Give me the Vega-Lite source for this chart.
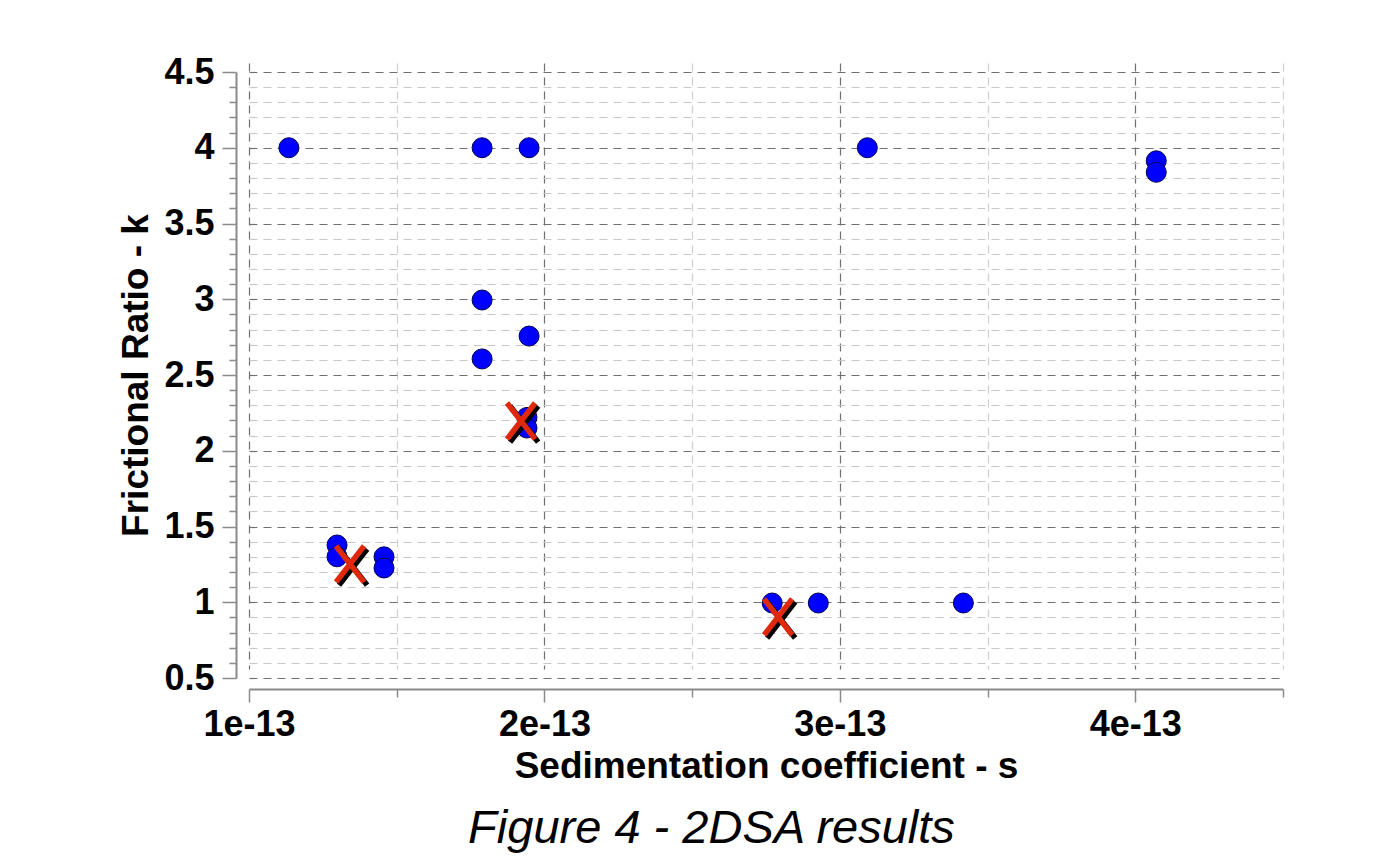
{
  "$schema": "https://vega.github.io/schema/vega-lite/v6.json",
  "autosize": {"type": "none"},
  "width": 1062,
  "height": 631,
  "padding": {"left": 243, "top": 55, "right": 94, "bottom": 180},
  "background": "white",
  "config": {"view": {"stroke": null}},
  "title": {
    "text": "Figure 4 - 2DSA results",
    "orient": "bottom",
    "anchor": "middle",
    "frame": "bounds",
    "font": "Liberation Sans",
    "fontSize": 47,
    "fontStyle": "italic",
    "fontWeight": "normal",
    "color": "#000000",
    "offset": 22
  },
  "datasets": {
    "solutes": [
      {"s": 1.135e-13, "k": 4.0},
      {"s": 1.789e-13, "k": 4.0},
      {"s": 1.948e-13, "k": 4.0},
      {"s": 3.093e-13, "k": 4.0},
      {"s": 4.071e-13, "k": 3.914},
      {"s": 4.071e-13, "k": 3.838},
      {"s": 1.789e-13, "k": 2.995},
      {"s": 1.789e-13, "k": 2.606},
      {"s": 1.948e-13, "k": 2.757},
      {"s": 1.941e-13, "k": 2.22},
      {"s": 1.941e-13, "k": 2.15},
      {"s": 1.298e-13, "k": 1.378},
      {"s": 1.298e-13, "k": 1.30},
      {"s": 1.457e-13, "k": 1.30},
      {"s": 1.457e-13, "k": 1.226},
      {"s": 2.771e-13, "k": 0.995},
      {"s": 2.927e-13, "k": 0.995},
      {"s": 3.418e-13, "k": 0.995}
    ],
    "markers": [
      {"s": 1.342e-13, "k": 1.252},
      {"s": 1.921e-13, "k": 2.196},
      {"s": 2.791e-13, "k": 0.903}
    ]
  },
  "resolve": {"axis": {"x": "independent", "y": "independent"}},
  "layer": [
    {
      "data": {"name": "solutes"},
      "mark": {"type": "circle", "size": 400, "opacity": 1, "fill": "#0000ff", "stroke": "#000055", "strokeWidth": 1},
      "encoding": {
        "x": {
          "field": "s", "type": "quantitative",
          "scale": {"domain": [1e-13, 4.5e-13], "range": [6, 1040], "nice": false, "zero": false},
          "axis": {
            "orient": "bottom", "offset": 3,
            "values": [1.5e-13, 2.5e-13, 3.5e-13, 4.5e-13],
            "labels": false, "domain": false, "title": null,
            "tickSize": 8, "tickColor": "#8a8a8a", "tickWidth": 1.5,
            "grid": true, "gridColor": "#cfcfcf", "gridDash": [8, 6], "gridWidth": 1.2
          }
        },
        "y": {
          "field": "k", "type": "quantitative",
          "scale": {"domain": [0.5, 4.5], "range": [623, 17], "nice": false, "zero": false},
          "axis": {
            "orient": "left", "offset": 7,
            "values": [0.6, 0.7, 0.8, 0.9, 1.1, 1.2, 1.3, 1.4, 1.6, 1.7, 1.8, 1.9, 2.1, 2.2, 2.3, 2.4, 2.6, 2.7, 2.8, 2.9, 3.1, 3.2, 3.3, 3.4, 3.6, 3.7, 3.8, 3.9, 4.1, 4.2, 4.3, 4.4],
            "labels": false, "domain": false, "title": null,
            "tickSize": 7, "tickColor": "#8a8a8a", "tickWidth": 1.5,
            "grid": true, "gridColor": "#c8c8c8", "gridDash": [8, 6], "gridWidth": 1.2
          }
        }
      }
    },
    {
      "data": {"name": "markers"},
      "mark": {"type": "point", "shape": "M-0.78,-1L0.78,1M0.78,-1L-0.78,1", "size": 1300, "filled": false, "stroke": "#000000", "strokeWidth": 5.5, "opacity": 1, "xOffset": 3, "yOffset": 3},
      "encoding": {
        "x": {
          "field": "s", "type": "quantitative",
          "scale": {"domain": [1e-13, 4.5e-13], "range": [6, 1040], "nice": false, "zero": false},
          "axis": {
            "orient": "bottom", "offset": 3,
            "values": [1e-13, 2e-13, 3e-13, 4e-13],
            "format": ".0e",
            "domain": true, "domainColor": "#8a8a8a", "domainWidth": 2,
            "tickSize": 13, "tickColor": "#8a8a8a", "tickWidth": 1.5,
            "labelFont": "Liberation Sans", "labelFontWeight": "bold", "labelFontSize": 36, "labelColor": "#000000", "labelPadding": 5,
            "labelFlush": false, "labelOverlap": false,
            "grid": true, "gridColor": "#707070", "gridDash": [8, 6], "gridWidth": 1.2,
            "title": "Sedimentation coefficient - s",
            "titleFont": "Liberation Sans", "titleFontWeight": "bold", "titleFontSize": 37, "titleColor": "#000000", "titlePadding": 6
          }
        },
        "y": {
          "field": "k", "type": "quantitative",
          "scale": {"domain": [0.5, 4.5], "range": [623, 17], "nice": false, "zero": false},
          "axis": {
            "orient": "left", "offset": 7,
            "values": [0.5, 1, 1.5, 2, 2.5, 3, 3.5, 4, 4.5],
            "format": "~g",
            "domain": true, "domainColor": "#8a8a8a", "domainWidth": 2,
            "tickSize": 14, "tickColor": "#8a8a8a", "tickWidth": 1.5,
            "labelFont": "Liberation Sans", "labelFontWeight": "bold", "labelFontSize": 36, "labelColor": "#000000", "labelPadding": 8,
            "labelFlush": false, "labelOverlap": false,
            "grid": true, "gridColor": "#707070", "gridDash": [8, 6], "gridWidth": 1.2,
            "title": "Frictional Ratio - k",
            "titleFont": "Liberation Sans", "titleFontWeight": "bold", "titleFontSize": 37, "titleColor": "#000000", "titlePadding": 8
          }
        }
      }
    },
    {
      "data": {"name": "markers"},
      "mark": {"type": "point", "shape": "M-0.78,-1L0.78,1M0.78,-1L-0.78,1", "size": 1300, "filled": false, "stroke": "#e0280c", "strokeWidth": 5.5, "opacity": 1},
      "encoding": {
        "x": {"field": "s", "type": "quantitative", "scale": {"domain": [1e-13, 4.5e-13], "range": [6, 1040], "nice": false, "zero": false}, "axis": null},
        "y": {"field": "k", "type": "quantitative", "scale": {"domain": [0.5, 4.5], "range": [623, 17], "nice": false, "zero": false}, "axis": null}
      }
    }
  ]
}
